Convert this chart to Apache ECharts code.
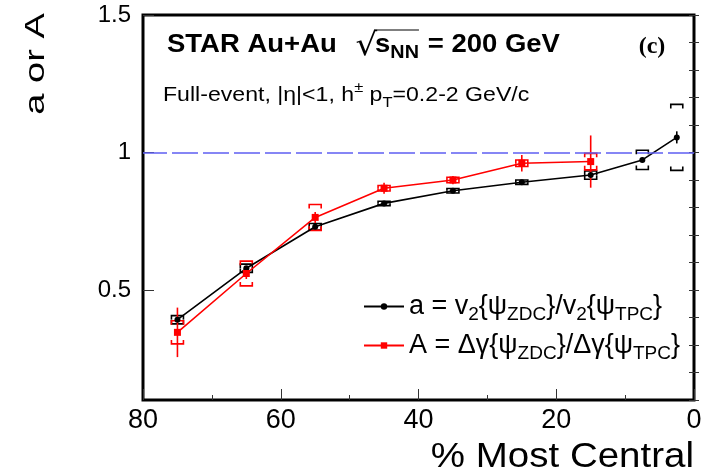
<!DOCTYPE html>
<html>
<head>
<meta charset="utf-8">
<script src="https://cdn.jsdelivr.net/npm/echarts@6/dist/echarts.min.js"></script>
<style>
  html, body { margin: 0; padding: 0; background: #fff; }
  #chart { width: 715px; height: 476px; }
</style>
</head>
<body>
<div id="chart"></div>
<script>
// Centrality bins (% most central)
const centA = [75, 65, 55, 45, 35, 25, 15, 7.5, 2.5];
// a = v2{Psi_ZDC}/v2{Psi_TPC}
const aValues = [0.392, 0.579, 0.730, 0.815, 0.861, 0.892, 0.918, 0.973, 1.055];
const aStat   = [0.006, 0.006, 0.006, 0.005, 0.005, 0.005, 0.006, 0.008, 0.022];
const aSys    = [0.015, 0.015, 0.012, 0.008, 0.008, 0.008, 0.015, 0.035, 0.120];

const centB = [75, 65, 55, 45, 35, 25, 15];
// A = dGamma{Psi_ZDC}/dGamma{Psi_TPC}
const bValues = [0.346, 0.560, 0.764, 0.870, 0.900, 0.961, 0.967];
const bStat   = [0.090, 0.020, 0.020, 0.020, 0.015, 0.030, 0.095];
const bSys    = [0.042, 0.045, 0.047, 0.010, 0.010, 0.012, 0.030];

const yLabelValues = [0.5, 1, 1.5];

const FONT = 'Liberation Sans, Arial, sans-serif';

const chart = echarts.init(document.getElementById('chart'), null, { renderer: 'canvas' });

function pairs(xs, ys) { return xs.map((x, i) => [x, ys[i]]); }
function triples(xs, ys, es) { return xs.map((x, i) => [x, ys[i], es[i]]); }

const measureCtx = document.createElement('canvas').getContext('2d');
function textWidth(text, font) { measureCtx.font = font; return measureCtx.measureText(text).width; }

// vertical statistical error bar
function statItem(color) {
  return function (params, api) {
    const x = api.value(0), y = api.value(1), e = api.value(2);
    const p1 = api.coord([x, y + e]);
    const p2 = api.coord([x, y - e]);
    return {
      type: 'line',
      shape: { x1: p1[0], y1: p1[1], x2: p2[0], y2: p2[1] },
      style: { stroke: color, lineWidth: 1.6 }
    };
  };
}

// systematic bracket: top cap with downward ends, bottom cap with upward ends
function sysItem(color) {
  return function (params, api) {
    const x = api.value(0), y = api.value(1), s = api.value(2);
    const pt = api.coord([x, y + s]);
    const pb = api.coord([x, y - s]);
    const hw = 6;
    const tick = Math.min(4, (pb[1] - pt[1]) / 2);
    const cx = pt[0];
    const st = { stroke: color, lineWidth: 1.6, fill: null };
    return {
      type: 'group',
      children: [
        { type: 'polyline', shape: { points: [[cx - hw, pt[1] + tick], [cx - hw, pt[1]], [cx + hw, pt[1]], [cx + hw, pt[1] + tick]] }, style: st },
        { type: 'polyline', shape: { points: [[cx - hw, pb[1] - tick], [cx - hw, pb[1]], [cx + hw, pb[1]], [cx + hw, pb[1] - tick]] }, style: st }
      ]
    };
  };
}

// legend labels: plain text uses the legend text style, {s|..} is a subscript
const legendText = {
  'a': 'a = v{s|2}{ψ{s|ZDC}}/v{s|2}{ψ{s|TPC}}',
  'A': 'A = Δγ{ψ{s|ZDC}}/Δγ{ψ{s|TPC}}'
};

// title line: STAR Au+Au  √s_NN = 200 GeV, laid out piece by piece
const fBold = 'bold 25px ' + FONT;
const fBoldSub = 'bold 18px ' + FONT;
const fRoot = '31px "DejaVu Sans", sans-serif';
const t1 = 'STAR Au+Au';
const xRoot = textWidth(t1, fBold) + 17;
const xS = xRoot + textWidth('√', fRoot) - 2;
const xNN = xS + textWidth('s', fBold);
const xEq = xNN + textWidth('NN', fBoldSub) + 1;
const titleChildren = [
  { type: 'text', x: 0, y: 0, style: { text: t1, font: fBold, fill: '#000', verticalAlign: 'middle' } },
  { type: 'text', x: xRoot, y: 2, style: { text: '√', font: fRoot, fill: '#000', verticalAlign: 'middle' } },
  { type: 'text', x: xS, y: 0, style: { text: 's', font: fBold, fill: '#000', verticalAlign: 'middle' } },
  { type: 'text', x: xNN, y: 8, style: { text: 'NN', font: fBoldSub, fill: '#000', verticalAlign: 'middle' } },
  { type: 'text', x: xEq, y: 0, style: { text: ' = 200 GeV', font: fBold, fill: '#000', verticalAlign: 'middle' } },
  { type: 'line', shape: { x1: xS - 1, y1: -15, x2: xEq - 1, y2: -15 }, style: { stroke: '#000', lineWidth: 1 } }
];

const option = {
  animation: false,
  backgroundColor: '#fff',
  grid: {
    left: 143, right: 21, top: 15, bottom: 76,
    show: true, borderColor: '#000', borderWidth: 3, backgroundColor: 'transparent'
  },
  xAxis: {
    type: 'value', inverse: true, min: 0, max: 80, interval: 20,
    axisLine: { show: false },
    axisTick: { inside: true, length: 11, lineStyle: { color: '#333', width: 1 } },
    minorTick: { show: true, splitNumber: 2, length: 5, lineStyle: { color: '#333', width: 1 } },
    splitLine: { show: false },
    minorSplitLine: { show: false },
    axisLabel: { fontSize: 27, color: '#000', margin: 7, fontFamily: FONT, showMinLabel: true, showMaxLabel: true }
  },
  yAxis: [
    {
      type: 'value', min: 0.1, max: 1.5, interval: 0.1, position: 'left',
      axisLine: { show: false },
      axisTick: { inside: true, length: 5, lineStyle: { color: '#333', width: 1 } },
      splitLine: { show: false },
      axisLabel: {
        customValues: yLabelValues,
        fontSize: 24, color: '#000', margin: 12, fontFamily: FONT,
        formatter: v => {
          const r = Math.round(v * 10) / 10;
          return yLabelValues.indexOf(r) >= 0 ? String(r) : '';
        }
      }
    },
    {
      type: 'value', min: 0.1, max: 1.5, position: 'left',
      axisLine: { show: false },
      axisTick: { inside: true, length: 11, customValues: yLabelValues, lineStyle: { color: '#333', width: 1 } },
      axisLabel: { show: false },
      splitLine: { show: false }
    },
    {
      type: 'value', min: 0.1, max: 1.5, interval: 0.1, position: 'right',
      axisLine: { show: false },
      axisTick: { inside: true, length: 5, lineStyle: { color: '#333', width: 1 } },
      axisLabel: { show: false },
      splitLine: { show: false }
    }
  ],
  legend: {
    orient: 'vertical', left: 358, top: 284,
    itemWidth: 40, itemHeight: 8, itemGap: 4,
    selectedMode: false,
    data: ['a', 'A'],
    formatter: name => legendText[name],
    textStyle: {
      color: '#000', fontFamily: FONT, fontSize: 27, lineHeight: 27,
      rich: {
        s: { fontSize: 19, lineHeight: 19, fontFamily: FONT, color: '#000', padding: [16, 0, 0, 0] }
      }
    }
  },
  graphic: [
    { type: 'group', x: 167, y: 45, scaleX: 1.1, children: titleChildren },
    {
      type: 'text', x: 652, y: 47,
      style: { text: '(c)', font: 'bold 24px "Liberation Serif", serif', fill: '#000', align: 'center', verticalAlign: 'middle' }
    },
    {
      type: 'text', x: 163, y: 95, scaleX: 1.1,
      style: {
        text: '{n|Full-event, |η|<1, h}{p|±}{n| p}{t|T}{n|=0.2-2 GeV/c}',
        verticalAlign: 'middle', align: 'left',
        rich: {
          n: { fontSize: 21, fontFamily: FONT, fill: '#000', lineHeight: 22 },
          p: { fontSize: 15, fontFamily: FONT, fill: '#000', lineHeight: 15, padding: [0, 0, 14, 0] },
          t: { fontSize: 15, fontFamily: FONT, fill: '#000', lineHeight: 15, padding: [16, 0, 0, 0] }
        }
      }
    },
    {
      type: 'text', x: 694, y: 457, scaleX: 1.1,
      style: { text: '% Most Central', font: '35px ' + FONT, fill: '#000', align: 'right', verticalAlign: 'middle' }
    },
    {
      type: 'text', x: 36, y: 64, rotation: Math.PI / 2, scaleX: 1.36,
      style: { text: 'a or A', font: '28px ' + FONT, fill: '#000', align: 'center', verticalAlign: 'middle' }
    }
  ],
  series: [
    {
      type: 'custom', renderItem: sysItem('#000'), data: triples(centA, aValues, aSys),
      encode: { x: 0, y: 1 }, z: 2, silent: true
    },
    {
      type: 'custom', renderItem: statItem('#000'), data: triples(centA, aValues, aStat),
      encode: { x: 0, y: 1 }, z: 2, silent: true
    },
    {
      type: 'custom', renderItem: sysItem('#ff0000'), data: triples(centB, bValues, bSys),
      encode: { x: 0, y: 1 }, z: 3, silent: true
    },
    {
      type: 'custom', renderItem: statItem('#ff0000'), data: triples(centB, bValues, bStat),
      encode: { x: 0, y: 1 }, z: 3, silent: true
    },
    {
      name: 'a', type: 'line', data: pairs(centA, aValues),
      symbol: 'circle', symbolSize: 6, z: 4,
      lineStyle: { color: '#000', width: 1.6 }, itemStyle: { color: '#000' },
      markLine: {
        silent: true, symbol: 'none', label: { show: false },
        lineStyle: { color: '#5f5ff2', width: 1.5, type: [26, 5] },
        data: [{ yAxis: 1 }]
      }
    },
    {
      name: 'A', type: 'line', data: pairs(centB, bValues),
      symbol: 'rect', symbolSize: 7, z: 5,
      lineStyle: { color: '#ff0000', width: 1.6 }, itemStyle: { color: '#ff0000' }
    }
  ]
};

chart.setOption(option);
</script>
</body>
</html>
